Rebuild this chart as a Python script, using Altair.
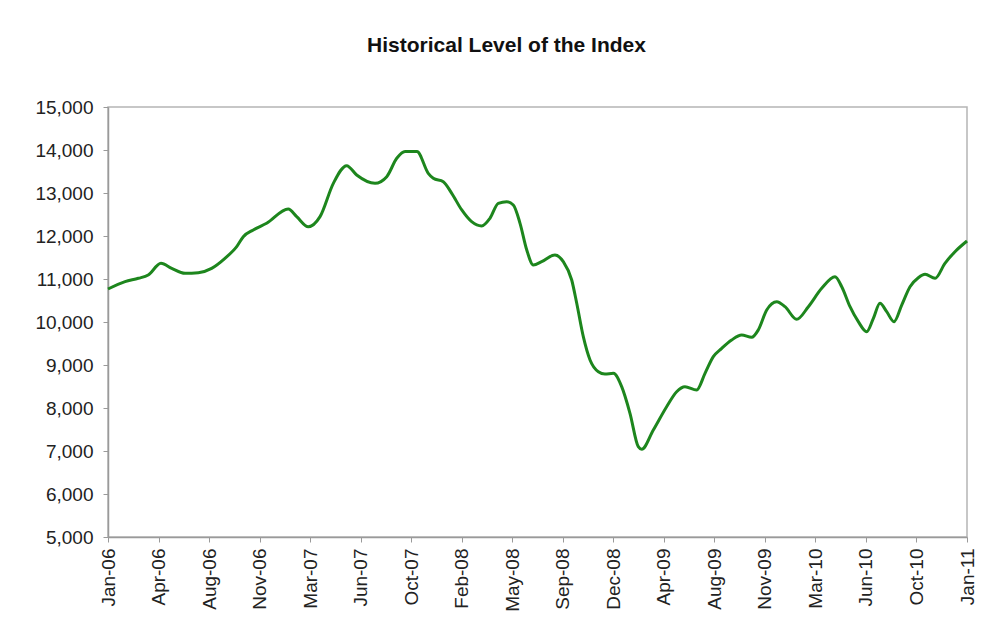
import altair as alt
import pandas as pd

# x position in months since Jan-2006, y = index level
months = [0.0, 1.19, 2.12, 2.81, 3.70, 4.45, 5.38, 6.31, 7.24, 8.17, 8.99, 9.45,
          10.15, 11.08, 12.59, 13.18, 13.99, 14.81, 15.74, 16.67, 17.37, 18.65,
          19.47, 20.17, 20.75, 21.58, 22.37, 22.72, 23.42, 24.01, 24.71, 25.40,
          26.10, 26.68, 27.26, 27.85, 28.31, 28.78, 29.25, 29.71, 30.29, 31.22,
          31.80, 32.39, 32.74, 33.20, 33.67, 34.25, 34.71, 35.30, 35.88, 36.46,
          37.04, 37.28, 38.09, 39.02, 39.72, 40.30, 41.12, 41.70, 42.28, 42.87,
          43.56, 44.26, 44.96, 45.42, 46.01, 46.71, 47.29, 48.10, 48.92, 49.85,
          50.78, 51.25, 51.83, 52.41, 52.99, 53.46, 53.92, 54.39, 54.90, 55.44,
          56.02, 56.60, 57.07, 57.77, 58.46, 59.16, 60.0]
levels = [10767, 10940, 11016, 11093, 11365, 11248, 11132, 11147, 11248, 11481, 11752, 11984,
          12140, 12295, 12628, 12450, 12217, 12450, 13225, 13635, 13419, 13225,
          13380, 13807, 13965, 13965, 13458, 13342, 13263, 12992, 12605, 12333,
          12233, 12412, 12760, 12798, 12721, 12295, 11674, 11326, 11403, 11558,
          11403, 10977, 10435, 9658, 9116, 8844, 8791, 8806, 8496, 7877,
          7100, 7040, 7488, 8030, 8379, 8496, 8419, 8806, 9193, 9388,
          9581, 9698, 9643, 9814, 10279, 10472, 10356, 10062, 10356, 10783,
          11053, 10821, 10356, 10007, 9774, 10086, 10435, 10240, 10007, 10395,
          10821, 11030, 11109, 11016, 11365, 11635, 11884]

tick_labels = ["Jan-06", "Apr-06", "Aug-06", "Nov-06", "Mar-07", "Jun-07", "Oct-07",
               "Feb-08", "May-08", "Sep-08", "Dec-08", "Apr-09", "Aug-09", "Nov-09",
               "Mar-10", "Jun-10", "Oct-10", "Jan-11"]
y_ticks = [5000, 6000, 7000, 8000, 9000, 10000, 11000, 12000, 13000, 14000, 15000]

df = pd.DataFrame({"m": months, "level": levels})

n = len(tick_labels) - 1
x_ticks = [60.0 * k / n for k in range(n + 1)]
label_arr = "[" + ",".join("'" + s + "'" for s in tick_labels) + "]"

FONT = "Liberation Sans"

chart = alt.Chart(df).mark_line(
    color="#1d861d", strokeWidth=3, interpolate="monotone"
).encode(
    x=alt.X("m:Q", scale=alt.Scale(domain=[0, 60], nice=False, zero=False),
            axis=alt.Axis(values=x_ticks, labelExpr=f"{label_arr}[round(datum.value*{n}/60)]",
                          labelAngle=270, title=None, grid=False, labelFontSize=19,
                          labelFont=FONT, labelColor="#222222", domainColor="#9a9a9a",
                          domainWidth=1.5, tickColor="#9a9a9a", tickSize=5, labelPadding=6,
                          labelOverlap=False)),
    y=alt.Y("level:Q", scale=alt.Scale(domain=[5000, 15000], nice=False, zero=False),
            axis=alt.Axis(values=y_ticks, format=",d", title=None, grid=False,
                          labelFontSize=19, labelFont=FONT, labelColor="#222222",
                          domainColor="#9a9a9a", domainWidth=1.5, tickColor="#9a9a9a",
                          tickSize=5, labelPadding=10)),
).properties(
    width=859, height=430,
    autosize=alt.AutoSizeParams(type="none"),
    padding={"left": 100, "top": 99, "right": 10, "bottom": 90},
    title=alt.TitleParams("Historical Level of the Index", font=FONT, fontSize=21,
                          fontWeight="bold", color="#111111", anchor="middle",
                          dx=-31, offset=42),
).configure_view(stroke="#b5b5b5", strokeWidth=1.5)

chart.save("out.html", embed_options={"renderer": "svg", "actions": False})
